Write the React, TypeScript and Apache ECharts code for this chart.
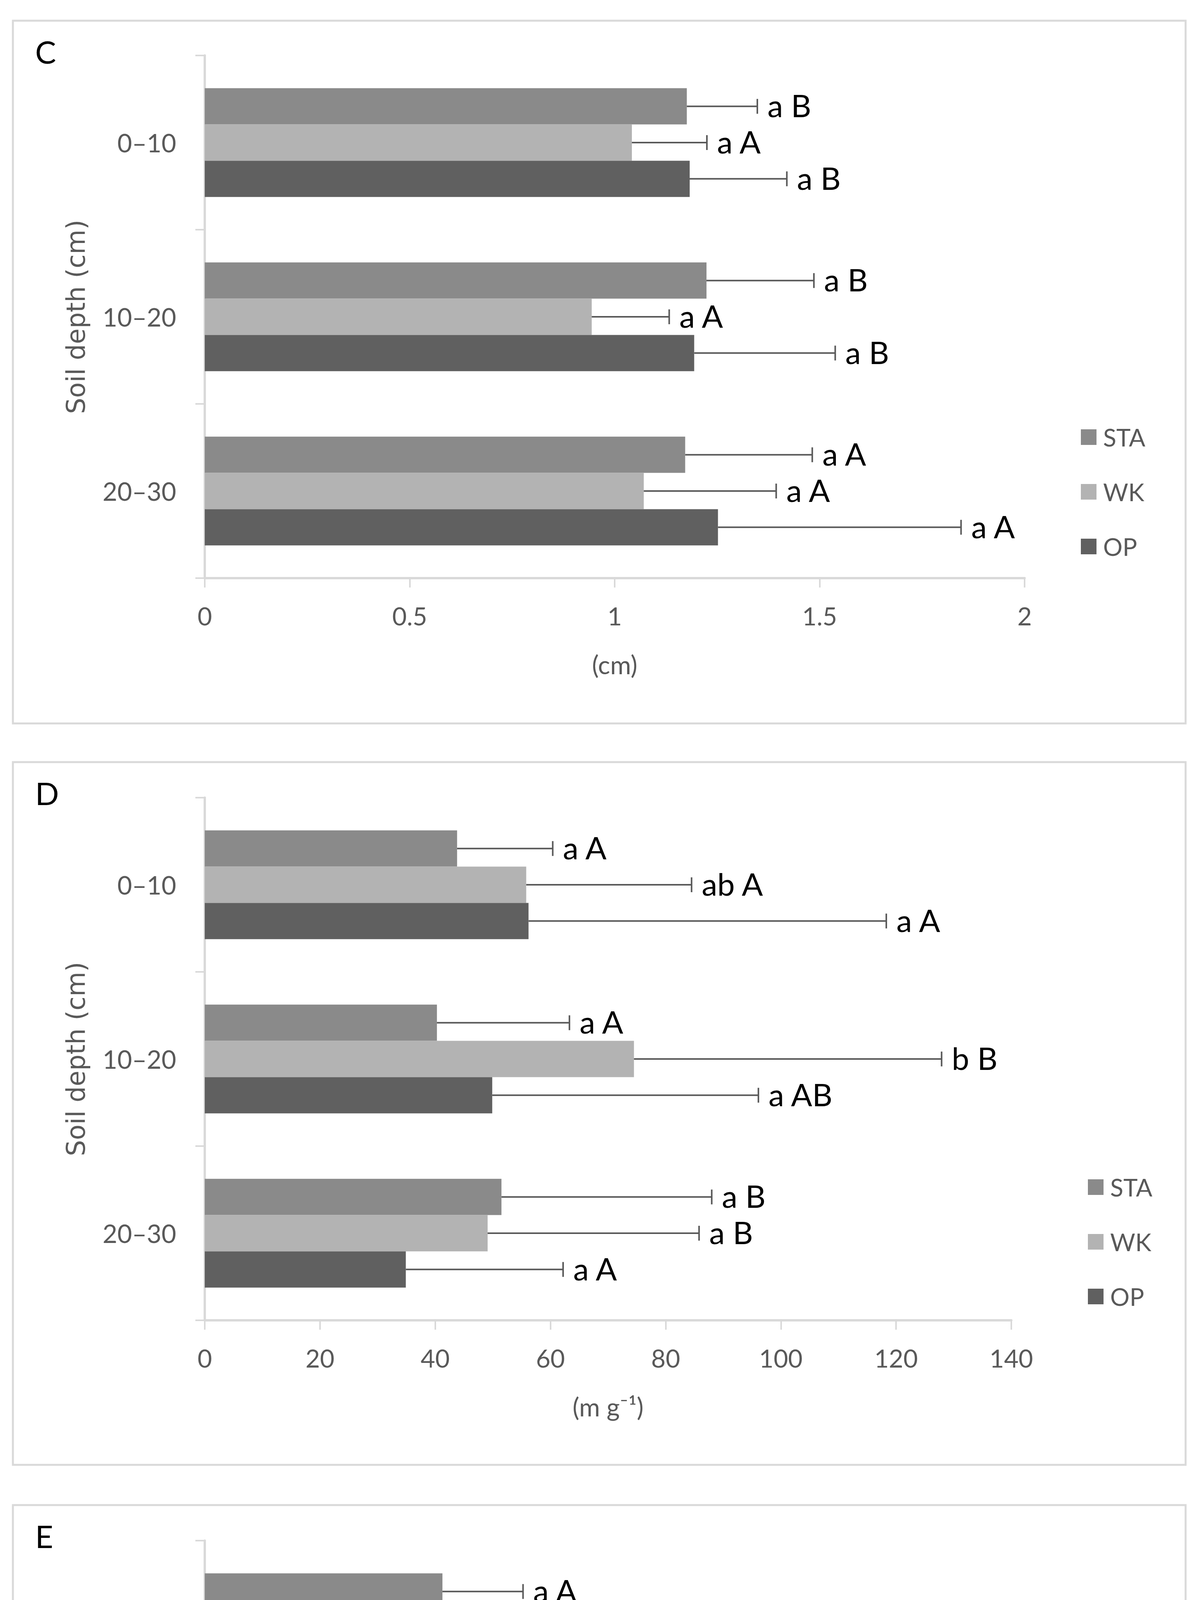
import React, { useEffect, useRef } from "react";
import * as echarts from "echarts";

// ---------- data ----------
const depths = ["0–10", "10–20", "20–30"];
const treatments = ["STA", "WK", "OP"];
const panelLetters = ["C", "D", "E"];
const xTitles = ["(cm)", "(m g⁻¹)", "(cm² g⁻¹)"];
const xMax = [2, 140, 3500];
const xInterval = [0.5, 20, 500];

// Panel C (cm)
const cSTA = [1.176, 1.224, 1.172];
const cWK = [1.042, 0.944, 1.071];
const cOP = [1.183, 1.194, 1.252];
const cSTAerr = [0.172, 0.262, 0.31];
const cWKerr = [0.183, 0.189, 0.323];
const cOPerr = [0.237, 0.344, 0.593];
const cSTAlab = ["a B", "a B", "a A"];
const cWKlab = ["a A", "a A", "a A"];
const cOPlab = ["a B", "a B", "a A"];

// Panel D (m g-1)
const dSTA = [43.8, 40.3, 51.5];
const dWK = [55.8, 74.5, 49.1];
const dOP = [56.2, 49.9, 34.9];
const dSTAerr = [16.6, 23.0, 36.5];
const dWKerr = [28.7, 53.4, 36.7];
const dOPerr = [62.1, 46.2, 27.3];
const dSTAlab = ["a A", "a A", "a B"];
const dWKlab = ["ab A", "b B", "a B"];
const dOPlab = ["a A", "a AB", "a A"];

// Panel E (cm2 g-1)
const eSTA = [1041, 1004, 1240];
const eWK = [1246, 1663, 1152];
const eOP = [1381, 1229, 863];
const eSTAerr = [353, 508, 775];
const eWKerr = [601, 1092, 884];
const eOPerr = [1599, 961, 625];
const eSTAlab = ["a A", "a A", "a A"];
const eWKlab = ["a A", "a B", "a A"];
const eOPlab = ["a A", "a AB", "a A"];

const panelMeans = [
  [cSTA, cWK, cOP],
  [dSTA, dWK, dOP],
  [eSTA, eWK, eOP],
];
const panelErrs = [
  [cSTAerr, cWKerr, cOPerr],
  [dSTAerr, dWKerr, dOPerr],
  [eSTAerr, eWKerr, eOPerr],
];
const panelLabels = [
  [cSTAlab, cWKlab, cOPlab],
  [dSTAlab, dWKlab, dOPlab],
  [eSTAlab, eWKlab, eOPlab],
];

// ---------- layout / style ----------
const W = 3076;
const H = 5701;
const colors = ["#8a8a8a", "#b3b3b3", "#606060"];
const TEXT = "#595959";
const AXIS = "#d9d9d9";
const FONT = "Lato";
const GAP = 0.376;
const borderTops = [53, 1951, 3853];
const gridTops = [142, 2042, 3944];
const gridRights = [2622, 2588, 2569];
const gridLeft = 524;
const gridHeight = 1338;
const legendLefts = [2766, 2784, 2784];
const legendFirstCenters = [1119, 3039, 4922];

function errSeries(p: number, k: number) {
  const means = panelMeans[p][k];
  const errs = panelErrs[p][k];
  const labels = panelLabels[p][k];
  return {
    type: "custom",
    name: "err-" + p + "-" + k,
    xAxisIndex: p,
    yAxisIndex: p,
    z: 5,
    silent: true,
    data: means.map((m, j) => [m, j, m + errs[j]]),
    encode: { x: [0, 2], y: 1 },
    renderItem: (params: any, api: any) => {
      const j = api.value(1);
      const a = api.coord([api.value(0), j]);
      const b = api.coord([api.value(2), j]);
      const band = api.size([0, 1])[1];
      const bw = (band * (1 - GAP)) / 3;
      const y = a[1] + (k - 1) * bw;
      return {
        type: "group",
        children: [
          {
            type: "line",
            shape: { x1: a[0], y1: y, x2: b[0], y2: y },
            style: { stroke: TEXT, lineWidth: 4 },
          },
          {
            type: "line",
            shape: { x1: b[0], y1: y - 19, x2: b[0], y2: y + 19 },
            style: { stroke: TEXT, lineWidth: 4 },
          },
          {
            type: "text",
            x: b[0] + 26,
            y: y - 3,
            style: {
              text: labels[j],
              fontSize: 80,
              fontFamily: FONT,
              fill: "#000",
              align: "left",
              verticalAlign: "middle",
            },
          },
        ],
      };
    },
  };
}

function buildOption() {
  const grids: any[] = [];
  const xAxes: any[] = [];
  const yAxes: any[] = [];
  const legends: any[] = [];
  const series: any[] = [];
  const graphics: any[] = [];

  for (let p = 0; p < 3; p++) {
    grids.push({
      left: gridLeft,
      top: gridTops[p],
      width: gridRights[p] - gridLeft,
      height: gridHeight,
      containLabel: false,
    });
    xAxes.push({
      type: "value",
      gridIndex: p,
      min: 0,
      max: xMax[p],
      interval: xInterval[p],
      axisLine: { show: true, lineStyle: { color: AXIS, width: 6 } },
      axisTick: { show: true, length: 24, lineStyle: { color: AXIS, width: 4 } },
      splitLine: { show: false },
      axisLabel: {
        fontSize: 64,
        color: TEXT,
        fontFamily: FONT,
        margin: 64,
        formatter: (v: number) => String(v),
      },
      name: xTitles[p],
      nameLocation: "middle",
      nameGap: 188,
      nameTextStyle: { fontSize: 65, color: TEXT, fontFamily: FONT, lineHeight: 65 },
    });
    yAxes.push({
      type: "category",
      gridIndex: p,
      data: depths,
      inverse: true,
      axisLine: { show: true, lineStyle: { color: AXIS, width: 6 } },
      axisTick: { show: true, length: 24, lineStyle: { color: AXIS, width: 4 } },
      splitLine: { show: false },
      axisLabel: { fontSize: 65, color: TEXT, fontFamily: FONT, margin: 73 },
      name: "Soil depth (cm)",
      nameLocation: "middle",
      nameRotate: 90,
      nameGap: 297,
      nameTextStyle: { fontSize: 65, color: TEXT, fontFamily: "DejaVu Sans", lineHeight: 65 },
    });
    legends.push({
      orient: "vertical",
      left: legendLefts[p],
      top: legendFirstCenters[p] - 31,
      padding: 0,
      itemWidth: 40,
      itemHeight: 40,
      itemGap: 78,
      icon: "rect",
      selectedMode: false,
      data: treatments,
      textStyle: {
        fontSize: 62,
        lineHeight: 62,
        color: TEXT,
        fontFamily: FONT,
        padding: [0, 0, 0, 12],
      },
    });
    for (let k = 0; k < 3; k++) {
      series.push({
        type: "bar",
        name: treatments[k],
        xAxisIndex: p,
        yAxisIndex: p,
        data: panelMeans[p][k],
        barGap: "0%",
        barCategoryGap: GAP * 100 + "%",
        itemStyle: { color: colors[k] },
        silent: true,
      });
    }
    for (let k = 0; k < 3; k++) series.push(errSeries(p, k));

    graphics.push({
      type: "rect",
      shape: { x: 33, y: borderTops[p], width: 3001, height: 1799 },
      style: { fill: "none", stroke: AXIS, lineWidth: 5 },
      silent: true,
    });
    graphics.push({
      type: "text",
      x: 90,
      y: borderTops[p] + 79,
      style: {
        text: panelLetters[p],
        fontSize: 80,
        fontFamily: FONT,
        fill: "#000",
        verticalAlign: "middle",
        align: "left",
      },
      silent: true,
    });
  }

  return {
    animation: false,
    backgroundColor: "#ffffff",
    grid: grids,
    xAxis: xAxes,
    yAxis: yAxes,
    legend: legends,
    series,
    graphic: graphics,
  };
}

export default function App() {
  const ref = useRef<HTMLDivElement>(null);
  useEffect(() => {
    document.body.style.margin = "0";
    if (!ref.current) return;
    const chart = echarts.init(ref.current, undefined, { renderer: "svg" });
    chart.setOption(buildOption() as any);
    return () => {
      chart.dispose();
    };
  }, []);
  return <div ref={ref} style={{ display: "block", width: W, height: H, background: "#fff" }} />;
}
